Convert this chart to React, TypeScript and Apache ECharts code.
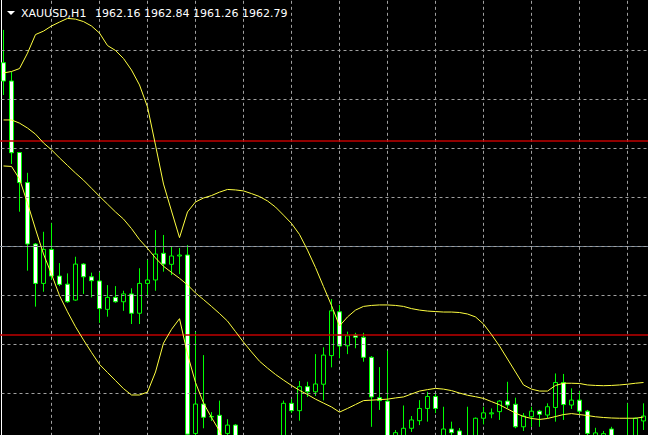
import React, { useEffect, useRef } from 'react';
import * as echarts from 'echarts';

// ---- data (XAUUSD, H1) ----
const symbolLabel = 'XAUUSD,H1';
const quoteLabel = '1962.16 1962.84 1961.26 1962.79';

const opens = [1977.51, 1976.76, 1973.84, 1972.61, 1970.10, 1968.49, 1969.88, 1968.79, 1968.46, 1967.81,
  1969.28, 1968.76, 1968.59, 1967.43, 1967.92, 1967.74, 1968.06, 1967.27, 1968.49, 1968.63,
  1969.72, 1969.27, 1969.61, 1969.65, 1962.36, 1963.56, 1963.03, 1963.10, 1962.36, 1962.70,
  1961.84, 1961.19, 1961.60, 1961.35, 1961.84, 1961.60, 1963.59, 1963.29, 1964.27, 1964.06,
  1964.37, 1965.54, 1967.33, 1965.94, 1966.38, 1966.29, 1965.47, 1963.82, 1963.68, 1962.09,
  1962.21, 1962.57, 1962.88, 1963.38, 1963.87, 1962.17, 1962.54, 1962.46, 1962.17, 1962.09,
  1962.98, 1963.16, 1963.25, 1963.68, 1963.55, 1962.63, 1963.04, 1963.27, 1963.11, 1963.42,
  1964.44, 1963.52, 1963.72, 1963.27, 1962.09, 1962.09, 1962.54, 1962.09, 1961.60, 1962.09,
  1962.87];

const highs = [1978.85, 1977.14, 1973.86, 1973.01, 1970.14, 1970.60, 1970.95, 1969.32, 1968.90, 1969.58,
  1969.32, 1968.93, 1968.94, 1968.42, 1968.38, 1968.19, 1968.29, 1969.11, 1969.45, 1970.67,
  1970.47, 1969.99, 1969.94, 1970.06, 1966.50, 1965.56, 1963.23, 1963.70, 1962.94, 1962.74,
  1962.05, 1961.76, 1961.92, 1962.01, 1962.09, 1963.70, 1963.76, 1964.50, 1964.47, 1965.60,
  1965.88, 1967.85, 1967.61, 1966.52, 1966.47, 1966.47, 1965.52, 1965.07, 1965.74, 1962.50,
  1963.50, 1963.07, 1963.72, 1964.06, 1963.97, 1963.45, 1962.84, 1962.58, 1963.45, 1963.01,
  1963.45, 1963.38, 1963.72, 1964.47, 1963.82, 1963.19, 1963.45, 1963.32, 1963.59, 1964.81,
  1964.79, 1964.20, 1964.09, 1963.32, 1962.59, 1962.46, 1962.63, 1962.21, 1963.59, 1963.01,
  1963.59];

const lows = [1976.19, 1973.37, 1971.42, 1969.01, 1967.54, 1968.15, 1968.63, 1968.38, 1967.70, 1967.78,
  1968.06, 1967.92, 1966.88, 1967.13, 1967.70, 1967.37, 1966.83, 1966.83, 1967.95, 1968.19,
  1968.97, 1968.83, 1968.87, 1961.89, 1962.09, 1962.57, 1962.87, 1961.76, 1961.89, 1961.60,
  1960.86, 1960.78, 1961.03, 1961.19, 1961.35, 1961.43, 1963.19, 1962.88, 1963.85, 1963.89,
  1963.71, 1965.06, 1965.43, 1965.60, 1965.84, 1965.29, 1962.63, 1963.32, 1961.89, 1961.89,
  1962.09, 1962.42, 1962.70, 1962.84, 1963.19, 1962.01, 1962.25, 1961.92, 1961.60, 1961.89,
  1962.73, 1962.98, 1962.91, 1963.38, 1962.57, 1962.46, 1962.63, 1962.63, 1962.98, 1962.84,
  1962.91, 1963.36, 1963.14, 1962.01, 1961.89, 1961.92, 1962.01, 1961.48, 1961.48, 1962.01,
  1962.50];

const closes = [1976.76, 1973.83, 1972.61, 1970.10, 1968.49, 1969.88, 1968.79, 1968.45, 1967.74, 1969.28,
  1968.76, 1968.60, 1967.46, 1967.92, 1967.74, 1968.06, 1967.27, 1968.49, 1968.63, 1969.69,
  1969.28, 1969.61, 1969.65, 1962.33, 1963.56, 1963.02, 1963.05, 1962.09, 1962.70, 1961.89,
  1961.19, 1961.60, 1961.35, 1961.84, 1961.60, 1963.59, 1963.29, 1964.27, 1964.06, 1964.38,
  1965.56, 1967.37, 1965.93, 1966.35, 1966.29, 1965.47, 1963.85, 1963.70, 1962.17, 1962.39,
  1962.57, 1962.91, 1963.38, 1963.87, 1963.38, 1962.54, 1962.39, 1962.09, 1961.84, 1962.98,
  1963.20, 1963.20, 1963.68, 1963.52, 1962.63, 1963.07, 1963.27, 1963.14, 1963.45, 1964.44,
  1963.54, 1963.72, 1963.27, 1962.36, 1962.38, 1962.35, 1962.17, 1961.68, 1962.09, 1962.98,
  1963.07];

// Bollinger Bands
const upperBand = [1977.09, 1977.15, 1977.27, 1977.90, 1978.66, 1978.80, 1979.01, 1979.17, 1979.32, 1979.29,
  1979.19, 1979.01, 1978.72, 1978.21, 1978.01, 1977.68, 1977.21, 1976.60, 1975.70, 1974.14,
  1972.55, 1971.45, 1970.36, 1971.41, 1971.82, 1971.98, 1972.08, 1972.22, 1972.33, 1972.31,
  1972.27, 1972.16, 1972.04, 1971.86, 1971.61, 1971.28, 1970.94, 1970.49, 1969.85, 1969.14,
  1968.36, 1967.59, 1966.75, 1967.12, 1967.40, 1967.55, 1967.59, 1967.61, 1967.61, 1967.59,
  1967.55, 1967.46, 1967.40, 1967.36, 1967.34, 1967.32, 1967.32, 1967.30, 1967.24, 1967.12,
  1966.83, 1966.40, 1965.93, 1965.40, 1964.87, 1964.34, 1964.17, 1964.09, 1964.09, 1964.32,
  1964.41, 1964.41, 1964.40, 1964.34, 1964.32, 1964.31, 1964.32, 1964.34, 1964.37, 1964.41,
  1964.44];

const middleBand = [1975.17, 1975.17, 1975.04, 1974.84, 1974.59, 1974.23, 1973.95, 1973.62, 1973.31, 1973.00,
  1972.71, 1972.38, 1972.05, 1971.73, 1971.41, 1971.12, 1970.73, 1970.28, 1969.92, 1969.53,
  1969.19, 1968.94, 1968.70, 1968.43, 1968.10, 1967.83, 1967.55, 1967.26, 1966.95, 1966.52,
  1966.09, 1965.69, 1965.31, 1965.03, 1964.77, 1964.54, 1964.32, 1964.12, 1963.95, 1963.76,
  1963.60, 1963.44, 1963.23, 1963.38, 1963.54, 1963.70, 1963.72, 1963.74, 1963.76, 1963.81,
  1963.85, 1963.97, 1964.09, 1964.15, 1964.20, 1964.17, 1964.11, 1964.01, 1963.92, 1963.86,
  1963.79, 1963.66, 1963.53, 1963.36, 1963.19, 1963.05, 1962.97, 1962.93, 1962.97, 1963.05,
  1963.13, 1963.17, 1963.13, 1963.09, 1963.04, 1963.01, 1962.99, 1962.98, 1962.98, 1962.98,
  1963.03];

const lowerBand = [1973.29, 1973.27, 1972.76, 1971.77, 1970.71, 1969.69, 1968.87, 1967.99, 1967.33, 1966.72,
  1966.18, 1965.67, 1965.18, 1964.85, 1964.52, 1964.19, 1963.93, 1963.93, 1964.05, 1964.87,
  1966.05, 1966.61, 1967.05, 1965.60, 1964.44, 1963.60, 1963.01, 1962.46, 1961.68, 1960.72,
  1959.92, 1959.21, 1958.58, 1958.21, 1957.94, 1957.80, 1957.70, 1957.75, 1958.04, 1958.37,
  1958.84, 1959.29, 1959.72, 1959.64, 1959.68, 1959.85, 1959.85, 1959.87, 1959.92, 1960.03,
  1960.15, 1960.47, 1960.78, 1960.95, 1961.06, 1961.03, 1960.90, 1960.72, 1960.60, 1960.60,
  1960.75, 1960.92, 1961.13, 1961.31, 1961.52, 1961.76, 1961.76, 1961.76, 1961.84, 1961.78,
  1961.86, 1961.94, 1961.86, 1961.84, 1961.77, 1961.71, 1961.65, 1961.62, 1961.59, 1961.55,
  1961.62];

const gridLevels = [1964, 1966, 1968, 1970, 1972, 1974, 1976, 1978];
const horizontalLines = [1974.34, 1966.38];
const bidLevel = 1970;

// hourly categories, with one padding slot on each side
const categories: string[] = [];
{
  const start = Date.UTC(2023, 5, 19, 5);
  for (let i = 0; i < opens.length + 2; i++) {
    const d = new Date(start + i * 3600 * 1000);
    const p = (n: number) => String(n).padStart(2, '0');
    categories.push(`${d.getUTCFullYear()}.${p(d.getUTCMonth() + 1)}.${p(d.getUTCDate())} ${p(d.getUTCHours())}:00`);
  }
}

const GREEN = '#00ff00';
const YELLOW = '#ffff40';
const GRID = '#a0a0a0';
// the chart canvas is larger than the visible window and offset by this much
const OX = 16;
const OY = 60;

export default function App() {
  const ref = useRef<HTMLDivElement>(null);
  useEffect(() => {
    document.body.style.margin = '0';
    document.body.style.background = '#000';
    const chart = echarts.init(ref.current!, null, { renderer: 'svg' });

    const candleData: any[] = [['-', '-', '-', '-']];
    for (let i = 0; i < opens.length; i++) {
      candleData.push([opens[i], closes[i], lows[i], highs[i]]);
    }
    const pad = (arr: number[]) => ['-', ...arr];
    const empty = categories.map(() => '-');

    const option: any = {
      animation: false,
      backgroundColor: '#000000',
      grid: { left: OX - 4.5, top: OY - 47.18, width: 656, height: 636.22, outerBoundsMode: 'none', containLabel: false },
      xAxis: {
        type: 'category',
        data: categories,
        boundaryGap: false,
        axisLine: { show: false },
        axisTick: { show: false },
        axisLabel: { show: false },
        splitLine: {
          show: true,
          interval: (i: number) => i > 1 && (i - 1) % 6 === 0,
          lineStyle: { color: GRID, width: 1, type: [3, 3] },
        },
      },
      yAxis: {
        type: 'value',
        min: 1956,
        max: 1982,
        interval: 2,
        axisLine: { show: false },
        axisTick: { show: false },
        axisLabel: { show: false },
        splitLine: { show: false },
      },
      series: [
        {
          type: 'line',
          name: 'grid',
          data: empty,
          z: 1,
          silent: true,
          markLine: {
            silent: true,
            symbol: ['none', 'none'],
            label: { show: false },
            data: [
              { yAxis: bidLevel, lineStyle: { color: '#6a7b8c', width: 1, type: 'solid' } },
              ...gridLevels.map((v) => ({ yAxis: v, lineStyle: { color: GRID, width: 1, type: [3, 3] } })),
            ],
          },
        },
        {
          type: 'candlestick',
          name: 'XAUUSD',
          data: candleData,
          barWidth: 5,
          z: 3,
          itemStyle: {
            color: '#000000',
            color0: '#ffffff',
            borderColor: GREEN,
            borderColor0: GREEN,
            borderColorDoji: GREEN,
            borderWidth: 1,
          },
        },
        {
          type: 'line',
          name: 'objects',
          data: empty,
          z: 4,
          silent: true,
          markLine: {
            silent: true,
            symbol: ['none', 'none'],
            label: { show: false },
            data: horizontalLines.map((v) => ({ yAxis: v, lineStyle: { color: '#c00000', width: 1.5, type: 'solid' } })),
          },
        },
        ...[upperBand, middleBand, lowerBand].map((arr, idx) => ({
          type: 'line',
          name: ['Upper', 'Middle', 'Lower'][idx],
          data: pad(arr),
          z: 5,
          showSymbol: false,
          symbol: 'none',
          lineStyle: { color: YELLOW, width: 1 },
        })),
      ],
      graphic: [
        {
          type: 'line',
          z: 0,
          shape: { x1: OX + 1.5, y1: OY, x2: OX + 1.5, y2: OY + 435 },
          style: { stroke: '#ffffff', lineWidth: 1 },
        },
        {
          type: 'polygon',
          z: 100,
          shape: { points: [[OX + 7, OY + 11], [OX + 15, OY + 11], [OX + 11, OY + 15]] },
          style: { fill: '#ffffff' },
        },
        {
          type: 'text',
          z: 100,
          x: OX + 21,
          y: OY + 13.3,
          style: { text: symbolLabel, fill: '#ffffff', fontSize: 11, fontFamily: 'DejaVu Sans', verticalAlign: 'middle' },
        },
        {
          type: 'text',
          z: 100,
          x: OX + 95,
          y: OY + 13.3,
          style: { text: quoteLabel, fill: '#ffffff', fontSize: 11, fontFamily: 'DejaVu Sans', verticalAlign: 'middle' },
        },
      ],
    };
    chart.setOption(option);
    return () => chart.dispose();
  }, []);
  return (
    <div style={{ position: 'fixed', left: 0, top: 0, width: 648, height: 435, overflow: 'hidden', background: '#000' }}>
      <div
        ref={ref}
        style={{ position: 'absolute', left: -OX, top: -OY, width: 680, height: 700 }}
      />
    </div>
  );
}
